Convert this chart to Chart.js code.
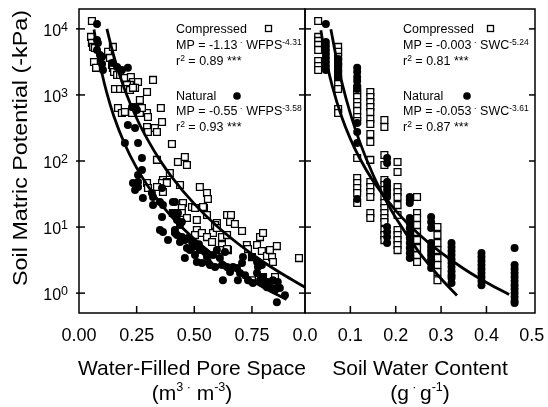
<!DOCTYPE html>
<html>
<head>
<meta charset="utf-8">
<script src="https://cdn.jsdelivr.net/npm/chart.js@4.4.1/dist/chart.umd.min.js"></script>
<style>
  html, body { margin: 0; padding: 0; background: #fff; }
  #wrap { position: relative; width: 548px; height: 407px; }
  #wrap canvas { position: absolute; left: 0; top: 0; }
</style>
</head>
<body>
<div id="wrap">
  <canvas id="left" width="548" height="407"></canvas>
  <canvas id="right" width="548" height="407"></canvas>
</div>
<script>
const FONT = '"Liberation Sans", Arial, Helvetica, sans-serif';

// shared log y axis (soil matric potential, -kPa)
const yTicks = [1, 10, 100, 1000, 10000];
const yTickExp = ['0', '1', '2', '3', '4'];

// left panel: water-filled pore space (m3/m3) vs MP
const wfpsTicks = [0, 0.25, 0.5, 0.75];
const compWfps = [
  [0.056,13200],[0.052,7570],[0.056,6140],[0.061,5340],[0.069,5150],[0.065,3160],[0.074,2570],
  [0.126,4490],[0.147,5340],[0.134,3640],[0.143,2850],[0.147,2570],[0.152,2230],[0.165,2010],[0.178,2010],
  [0.199,1810],[0.225,1870],[0.234,1570],[0.256,1570],[0.243,1280],[0.221,1420],[0.208,1420],[0.321,1690],
  [0.156,1230],[0.178,1230],[0.199,1230],[0.221,1190],[0.234,1280],[0.295,1110],[0.264,840],
  [0.169,635],[0.186,534],[0.199,553],[0.23,534],[0.264,534],[0.295,534],[0.355,635],[0.273,635],
  [0.299,464],[0.295,327],[0.329,316],[0.36,390],[0.338,275],[0.299,275],[0.403,181],
  [0.338,104],[0.429,96.6],[0.459,115],[0.468,86.9],[0.394,65.8],[0.364,51.5],[0.381,48.1],[0.36,46.4],
  [0.524,40.4],[0.555,32.7],[0.559,26.6],[0.295,46.4],[0.299,39.0],[0.338,40.4],[0.364,33.9],[0.381,46.4],[0.438,43.3],
  [0.451,23.1],[0.446,19.4],[0.49,20.1],[0.503,19.4],[0.542,19.4],[0.407,16.3],[0.446,16.3],[0.468,13.7],[0.511,12.8],
  [0.555,15.2],[0.598,11.5],[0.642,15.2],[0.659,15.2],[0.655,11.9],[0.676,11.1],[0.707,8.7],[0.581,8.11],[0.511,9.01],
  [0.503,7.56],[0.533,8.11],[0.555,7.05],[0.577,5.93],[0.62,7.05],[0.62,5.34],[0.646,4.48],[0.611,4.48],[0.59,10.7],
  [0.598,9.66],[0.642,7.56],[0.642,4.64],[0.728,5.34],[0.733,4.64],[0.75,3.51],[0.772,5.34],[0.785,7.05],[0.798,8.11],
  [0.793,4.33],[0.815,3.64],[0.837,3.51],[0.841,2.95],[0.858,5.15],[0.828,4.48],[0.85,1.75],[0.798,1.75],[0.75,1.57],
  [0.954,3.39],[0.538,20.1]
];
const natWfps = [
  [0.078,11900],[0.078,6810],[0.082,6140],[0.078,4810],[0.091,4040],[0.1,3770],[0.104,2390],[0.1,2950],
  [0.143,3050],[0.165,2660],[0.186,2390],[0.212,2570],[0.23,658],[0.243,658],[0.251,593],[0.212,351],[0.243,316],
  [0.199,187],[0.256,187],[0.273,111],[0.273,73.1],[0.256,61.4],[0.234,46.4],[0.256,48.1],[0.243,36.4],[0.256,40.4],
  [0.277,27.5],[0.321,28.5],[0.321,21.5],[0.364,21.5],[0.407,23.9],[0.36,14.2],[0.36,39.0],[0.407,16.3],[0.429,16.3],
  [0.446,11.9],[0.425,12.8],[0.351,9.01],[0.364,8.4],[0.386,6.35],[0.416,9.01],[0.425,7.56],[0.438,5.93],[0.459,6.35],
  [0.468,4.81],[0.459,3.39],[0.481,4.48],[0.494,4.98],[0.503,3.76],[0.511,2.95],[0.524,4.48],[0.533,2.85],[0.546,4.18],
  [0.555,3.51],[0.559,2.95],[0.568,2.66],[0.581,3.76],[0.59,2.48],[0.611,3.39],[0.62,2.66],[0.624,1.57],[0.642,2.48],
  [0.655,2.08],[0.668,2.48],[0.685,2.39],[0.698,2.01],[0.689,1.57],[0.707,2.85],[0.72,1.87],[0.733,1.57],[0.754,1.42],
  [0.772,2.01],[0.776,2.48],[0.785,1.57],[0.793,1.42],[0.798,1.75],[0.815,1.23],[0.819,1.47],[0.837,1.19],[0.841,1.57],
  [0.85,1.11],[0.862,1.23],[0.862,1.47],[0.893,0.93],[0.858,0.73],[0.772,2.95],[0.711,3.51],[0.75,3.51],[0.793,2.66],
  [0.633,4.18],[0.598,4.48],[0.871,1.19],[0.316,32.7],[0.351,23.9],[0.416,23.9],[0.425,15.2],[0.438,10.7],[0.416,8.11],
  [0.446,7.05],[0.473,6.81],[0.49,6.0],[0.52,5.5]
];
const compWfpsFit = [[0.121,10000],[0.14,5400],[0.16,3040],[0.18,1830],[0.2,1160],[0.25,444],[0.3,203],[0.35,104],
  [0.4,58.7],[0.5,22.4],[0.6,10.2],[0.7,5.26],[0.8,2.96],[0.9,1.78],[0.98,1.23]];
const natWfpsFit = [[0.065,9780],[0.08,4650],[0.1,2090],[0.12,1090],[0.15,489],[0.2,175],[0.25,78.7],[0.3,41],
  [0.35,23.6],[0.4,14.6],[0.5,6.58],[0.6,3.42],[0.7,1.97],[0.8,1.22],[0.9,0.8]];
const wfpsEq = { comp: ['-1.13', '-4.31', '0.89'], nat: ['-0.55', '-3.58', '0.93'] };

// right panel: soil water content (g/g) vs MP, measured in columns of equal SWC
const swcTicks = [0, 0.1, 0.2, 0.3, 0.4, 0.5];
const compSwcX = [0.029, 0.073, 0.115, 0.144, 0.175, 0.204, 0.247, 0.292];
const compSwcMP = [
  [13200, 7570, 6580, 5720, 4810, 3270, 2750, 2390],
  [5340, 4490, 3770, 3160, 2660, 2080, 1750, 1470, 1230, 614, 534],
  [1230, 1040, 933, 783, 681, 573, 464, 404, 111, 55.2, 46.4, 39.0, 32.7, 23.1],
  [1110, 933, 783, 658, 553, 433, 364, 257, 194, 104, 48.1, 40.4, 33.9, 28.5, 16.3, 13.7],
  [418, 327, 123, 86.9, 51.5, 43.3, 36.4, 28.5, 23.1, 19.4, 16.3, 13.7, 11.9, 9.01, 7.56, 6.35],
  [96.6, 68.1, 40.4, 33.9, 28.5, 21.5, 15.2, 9.01, 7.56, 6.35, 5.34, 4.48],
  [28.5, 16.3, 13.7, 10.7, 8.4, 6.35, 4.81, 3.76, 2.95],
  [10.0, 7.56, 5.72, 4.48, 3.39, 2.66, 2.08, 1.57]
];
const natSwcX = [0.046, 0.073, 0.115, 0.181, 0.231, 0.278, 0.323, 0.389, 0.462];
const natSwcMP = [
  [11900, 6350, 5520, 4810, 4180, 3640, 3160, 2750, 2390],
  [3510, 2950, 2570, 2230, 1870],
  [2570, 2230, 1870, 1630, 1370, 1230, 377, 275, 187, 26.6],
  [111, 93.3, 48.1, 41.8, 36.4, 31.6, 28.5, 10.0, 8.4, 7.05, 5.72],
  [28.5, 25.7, 23.1, 13.7, 11.5, 9.66, 8.11, 6.81, 5.72, 4.81, 4.04, 3.39],
  [14.2, 11.9, 9.66, 5.72, 4.98, 4.33, 3.76, 3.27, 2.85, 2.39],
  [5.72, 4.98, 4.33, 3.76, 3.27, 2.85, 2.48, 2.15, 1.87, 1.69, 1.42],
  [4.04, 3.51, 3.05, 2.66, 2.31, 2.01, 1.75, 1.52, 1.32],
  [4.81, 2.66, 2.31, 2.01, 1.75, 1.52, 1.32, 1.15, 1.0, 0.87, 0.76, 0.71]
];
const compSwcFit = [[0.057,9900],[0.07,3380],[0.08,1680],[0.1,520],[0.12,200],[0.15,62],[0.18,24],[0.2,13.8],
  [0.25,4.29],[0.3,1.65],[0.335,0.92]];
const natSwcFit = [[0.035,9550],[0.04,5900],[0.05,2640],[0.06,1370],[0.08,484],[0.1,216],[0.12,112],[0.15,50],
  [0.2,17.7],[0.25,7.9],[0.3,4.09],[0.35,2.34],[0.4,1.45],[0.45,0.95]];
const swcEq = { comp: ['-0.003', '-5.24', '0.81'], nat: ['-0.053', '-3.61', '0.87'] };

const pts = pairs => pairs.map(([x, y]) => ({x, y}));
const cols = (xs, vals) => xs.flatMap((x, i) => vals[i].map(y => ({x, y})));

// text with superscripts: parts = [[text, isSup], ...]
function rich(ctx, parts, x, y, size, o = {}) {
  const supSize = size * (o.supScale || 0.68);
  const raise = size * (o.raise || 0.33);
  const widths = parts.map(([t, s]) => {
    ctx.font = `${s ? supSize : size}px ${FONT}`;
    return ctx.measureText(t).width;
  });
  const total = widths.reduce((a, b) => a + b, 0);
  let cx = o.align === 'center' ? x - total / 2 : o.align === 'right' ? x - total : x;
  ctx.textAlign = 'left';
  ctx.textBaseline = 'alphabetic';
  parts.forEach(([t, s], i) => {
    ctx.font = `${s ? supSize : size}px ${FONT}`;
    ctx.fillText(t, cx, s ? y - raise : y);
    cx += widths[i];
  });
}

function seg(ctx, x1, y1, x2, y2) {
  ctx.beginPath(); ctx.moveTo(x1, y1); ctx.lineTo(x2, y2); ctx.stroke();
}

const panelPlugin = {
  id: 'panel',
  afterDatasetsDraw(chart, args, opts) {
    const {ctx, chartArea: a, scales: {x, y}} = chart;
    ctx.save();
    ctx.strokeStyle = '#000';
    ctx.fillStyle = '#000';
    ctx.lineWidth = 1.5;
    ctx.strokeRect(a.left, a.top, a.right - a.left, a.bottom - a.top);

    // tick marks, inward
    yTicks.forEach(v => {
      const py = y.getPixelForValue(v);
      seg(ctx, a.left - (opts.outer ? 3 : 0), py, a.left + 6, py);
      seg(ctx, a.right - 6, py, a.right, py);
    });
    opts.xTicks.forEach(v => {
      const px = x.getPixelForValue(v);
      if (px > a.left + 2 && px < a.right - 5) seg(ctx, px, a.bottom, px, a.bottom - 7);
    });

    // x tick labels
    ctx.font = `18px ${FONT}`;
    ctx.textAlign = 'center';
    ctx.textBaseline = 'alphabetic';
    opts.xTicks.forEach(v => ctx.fillText(v.toFixed(opts.digits), x.getPixelForValue(v), a.bottom + 28));

    // x title (two lines)
    const mid = (a.left + a.right) / 2;
    ctx.font = `21px ${FONT}`;
    ctx.fillText(opts.title, mid, a.bottom + 62);
    rich(ctx, opts.unit, mid, a.bottom + 87, 21, {align: 'center', supScale: 0.6, raise: 0.45});

    // y axis labels only on the left panel
    if (opts.outer) {
      yTicks.forEach((v, i) => {
        const py = y.getPixelForValue(v);
        rich(ctx, [['10'], [yTickExp[i], 1]], a.left - 11, py + 7, 16, {align: 'right', supScale: 0.78, raise: 0.3});
      });
      ctx.save();
      ctx.translate(27, (a.top + a.bottom) / 2 - 13);
      ctx.rotate(-Math.PI / 2);
      ctx.scale(1.11, 1);
      ctx.font = `21px ${FONT}`;
      ctx.textAlign = 'center';
      ctx.fillText('Soil Matric Potential (-kPa)', 0, 0);
      ctx.restore();
    }

    // equations / legend block
    const tx = a.left + opts.textDx;
    const S = 12.5;
    const rows = [32.5, 48.5, 64.5, 100, 115, 130.5];
    const eo = {supScale: 0.68, raise: 0.32};
    rich(ctx, [['Compressed']], tx, rows[0], S);
    ctx.lineWidth = 1.3;
    ctx.strokeRect(a.left + opts.squareDx, rows[0] - 7, 6, 6);
    rich(ctx, [['MP = ' + opts.eq.comp[0]], [' \u00b7', 1], [' ' + opts.varName], [opts.eq.comp[1], 1]], tx, rows[1], S, eo);
    rich(ctx, [['r'], ['2', 1], [' = ' + opts.eq.comp[2] + ' ***']], tx, rows[2], S, eo);
    rich(ctx, [['Natural']], tx, rows[3], S);
    ctx.beginPath();
    ctx.arc(a.left + opts.dotDx, rows[3] - 4, 3.8, 0, Math.PI * 2);
    ctx.fill();
    rich(ctx, [['MP = ' + opts.eq.nat[0]], [' \u00b7', 1], [' ' + opts.varName], [opts.eq.nat[1], 1]], tx, rows[4], S, eo);
    rich(ctx, [['r'], ['2', 1], [' = ' + opts.eq.nat[2] + ' ***']], tx, rows[5], S, eo);
    ctx.restore();
  }
};

function panel(id, xMax, padding, sets, opts) {
  return new Chart(document.getElementById(id), {
    type: 'scatter',
    data: {
      datasets: [
        {data: pts(sets.compFit), showLine: true, pointRadius: 0, borderColor: '#000', borderWidth: 2.8,
         cubicInterpolationMode: 'monotone'},
        {data: pts(sets.natFit), showLine: true, pointRadius: 0, borderColor: '#000', borderWidth: 2.8,
         cubicInterpolationMode: 'monotone'},
        {data: sets.nat, pointStyle: 'circle', pointRadius: 4, backgroundColor: '#000', borderWidth: 0},
        {data: sets.comp, pointStyle: 'rect', pointRadius: 4.8, backgroundColor: '#fff', borderColor: '#000', borderWidth: 1.3}
      ]
    },
    options: {
      responsive: false,
      animation: false,
      devicePixelRatio: 1,
      events: [],
      layout: {padding},
      plugins: {legend: {display: false}, tooltip: {enabled: false}, panel: opts},
      scales: {
        x: {type: 'linear', min: 0, max: xMax, display: false},
        y: {type: 'logarithmic', min: 0.5, max: 20000, display: false}
      }
    },
    plugins: [panelPlugin]
  });
}

panel('left', 0.98, {left: 79, right: 243, top: 9, bottom: 94},
  {comp: pts(compWfps), nat: pts(natWfps), compFit: compWfpsFit, natFit: natWfpsFit},
  {outer: true, xTicks: wfpsTicks, digits: 2, title: 'Water-Filled Pore Space',
   unit: [['(m'], ['3', 1], [' \u00b7', 1], [' m'], ['-3', 1], [')']],
   eq: wfpsEq, varName: 'WFPS', textDx: 97, squareDx: 186.5, dotDx: 158});

panel('right', 0.507, {left: 305, right: 13, top: 9, bottom: 94},
  {comp: cols(compSwcX, compSwcMP), nat: cols(natSwcX, natSwcMP), compFit: compSwcFit, natFit: natSwcFit},
  {outer: false, xTicks: swcTicks, digits: 1, title: 'Soil Water Content',
   unit: [['(g'], [' \u00b7 ', 1], ['g'], ['-1', 1], [')']],
   eq: swcEq, varName: 'SWC', textDx: 98, squareDx: 182.5, dotDx: 162});
</script>
</body>
</html>
